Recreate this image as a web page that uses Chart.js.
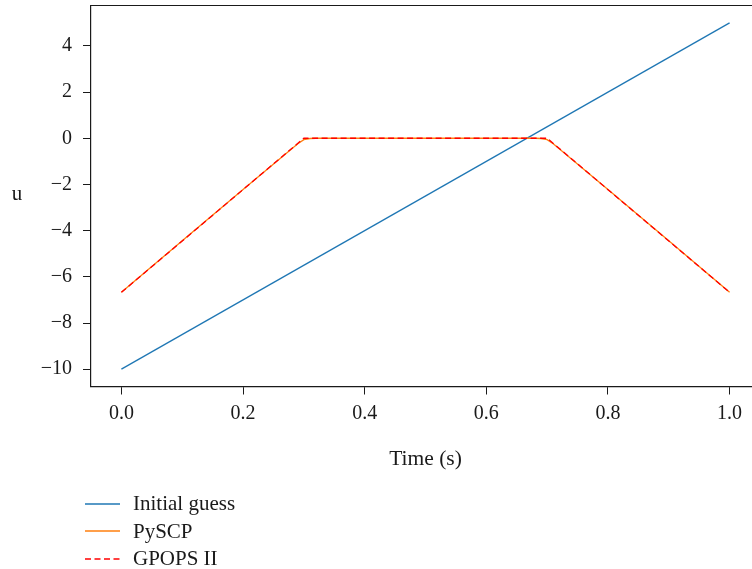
<!DOCTYPE html>
<html>
<head>
<meta charset="utf-8">
<script src="https://cdn.jsdelivr.net/npm/chart.js@4/dist/chart.umd.min.js"></script>
<style>
  html, body { margin:0; padding:0; background:#fff; overflow:hidden; width:752px; height:569px; }
  #wrap { position:relative; width:752px; height:569px; overflow:hidden; }
  #c { position:absolute; left:0; top:0; }
  #legend { position:absolute; left:85px; top:490px; font-family:'Liberation Serif', serif; font-size:21px; color:#1a1a1a; }
  .row { display:flex; align-items:center; height:27.5px; }
  .row svg { margin-right:13px; }
</style>
</head>
<body>
<div id="wrap">
  <canvas id="c" width="770" height="569" style="width:770px;height:569px"></canvas>
  <div id="legend"></div>
</div>
<script>
// ---- data ----
const seriesNames = ['Initial guess', 'PySCP', 'GPOPS II'];
const seriesColors = ['#1f77b4', '#ff7f0e', '#ff0000'];

const tInit = [0, 1];
const uInit = [-10, 5];

const tPy = [0, 0.1, 0.2, 0.29, 0.30, 0.31, 0.32, 0.4, 0.5, 0.6, 0.68, 0.69, 0.70, 0.71, 0.8, 0.9, 1.0];
const uPy = [-6.67, -4.44, -2.22, -0.24, -0.06, -0.01, 0, 0, 0, 0, 0, -0.01, -0.06, -0.24, -2.22, -4.44, -6.67];

const tGp = [0, 0.3, 0.7, 1.0];
const uGp = [-6.67, 0, 0, -6.67];

const xTickVals = [0, 0.2, 0.4, 0.6, 0.8, 1.0];
const yTickVals = [-10, -8, -6, -4, -2, 0, 2, 4];

const xTitle = 'Time (s)';
const yTitle = 'u';

// ---- chart ----
const toPts = (t, u) => t.map((x, i) => ({x: x, y: u[i]}));
const FONT = 'Liberation Serif';
const INK = '#1a1a1a';

const topSpine = {
  id: 'topSpine',
  afterDraw(chart) {
    const {ctx, chartArea} = chart;
    ctx.save();
    ctx.strokeStyle = INK;
    ctx.lineWidth = 1.2;
    ctx.beginPath();
    ctx.moveTo(chartArea.left, chartArea.top);
    ctx.lineTo(chartArea.right, chartArea.top);
    ctx.stroke();
    // y-axis label (horizontal, as in the reference)
    ctx.fillStyle = INK;
    ctx.font = '21px "' + FONT + '"';
    ctx.textAlign = 'center';
    ctx.textBaseline = 'middle';
    ctx.fillText(yTitle, 17, (chartArea.top + chartArea.bottom) / 2 - 2);
    ctx.restore();
  }
};

const fmt = v => (v < 0 ? '\u2212' : '') + Math.abs(v);

new Chart(document.getElementById('c'), {
  type: 'line',
  data: {
    datasets: [
      { label: seriesNames[0], data: toPts(tInit, uInit), borderColor: seriesColors[0], borderWidth: 1.3, pointRadius: 0, order: 3, tension: 0 },
      { label: seriesNames[1], data: toPts(tPy, uPy), borderColor: seriesColors[1], borderWidth: 1.3, pointRadius: 0, order: 2, tension: 0 },
      { label: seriesNames[2], data: toPts(tGp, uGp), borderColor: seriesColors[2], borderWidth: 1.3, borderDash: [6, 3.5], pointRadius: 0, order: 1, tension: 0 }
    ]
  },
  options: {
    responsive: false,
    animation: false,
    devicePixelRatio: 1,
    layout: { padding: { left: 0, right: 10, top: 5.5, bottom: 92.5 } },
    plugins: { legend: { display: false }, tooltip: { enabled: false } },
    scales: {
      x: {
        type: 'linear', min: -0.05, max: 1.05,
        afterBuildTicks: s => { s.ticks = xTickVals.map(v => ({value: v})); },
        afterFit: s => { s.height = 90; s.paddingLeft = 0; s.paddingRight = 0; },
        ticks: { font: { family: FONT, size: 20 }, color: INK, padding: 7, maxRotation: 0,
                 callback: v => v.toFixed(1) },
        grid: { drawOnChartArea: false, drawTicks: true, tickLength: 8, color: INK, lineWidth: 1 },
        border: { display: true, color: INK, width: 1.2 },
        title: { display: true, text: xTitle, font: { family: FONT, size: 21.5 }, color: INK, padding: { top: 0, bottom: 4.5 } }
      },
      y: {
        type: 'linear', min: -10.75, max: 5.75,
        afterBuildTicks: s => { s.ticks = yTickVals.map(v => ({value: v})); },
        afterFit: s => { s.width = 91; s.paddingTop = 0; s.paddingBottom = 0; },
        ticks: { font: { family: FONT, size: 20 }, color: INK, padding: 11, callback: v => fmt(v) },
        grid: { drawOnChartArea: false, drawTicks: true, tickLength: 8, color: INK, lineWidth: 1 },
        border: { display: true, color: INK, width: 1.2 }
      }
    }
  },
  plugins: [topSpine]
});

// ---- legend (HTML, real text) ----
const legend = document.getElementById('legend');
seriesNames.forEach((name, i) => {
  const row = document.createElement('div');
  row.className = 'row';
  const dash = i === 2 ? ' stroke-dasharray="6 3.5"' : '';
  row.innerHTML = '<svg width="35" height="4"><line x1="0" y1="2" x2="35" y2="2" stroke="' + seriesColors[i] + '" stroke-width="1.4"' + dash + '/></svg><span>' + name + '</span>';
  legend.appendChild(row);
});
</script>
</body>
</html>
